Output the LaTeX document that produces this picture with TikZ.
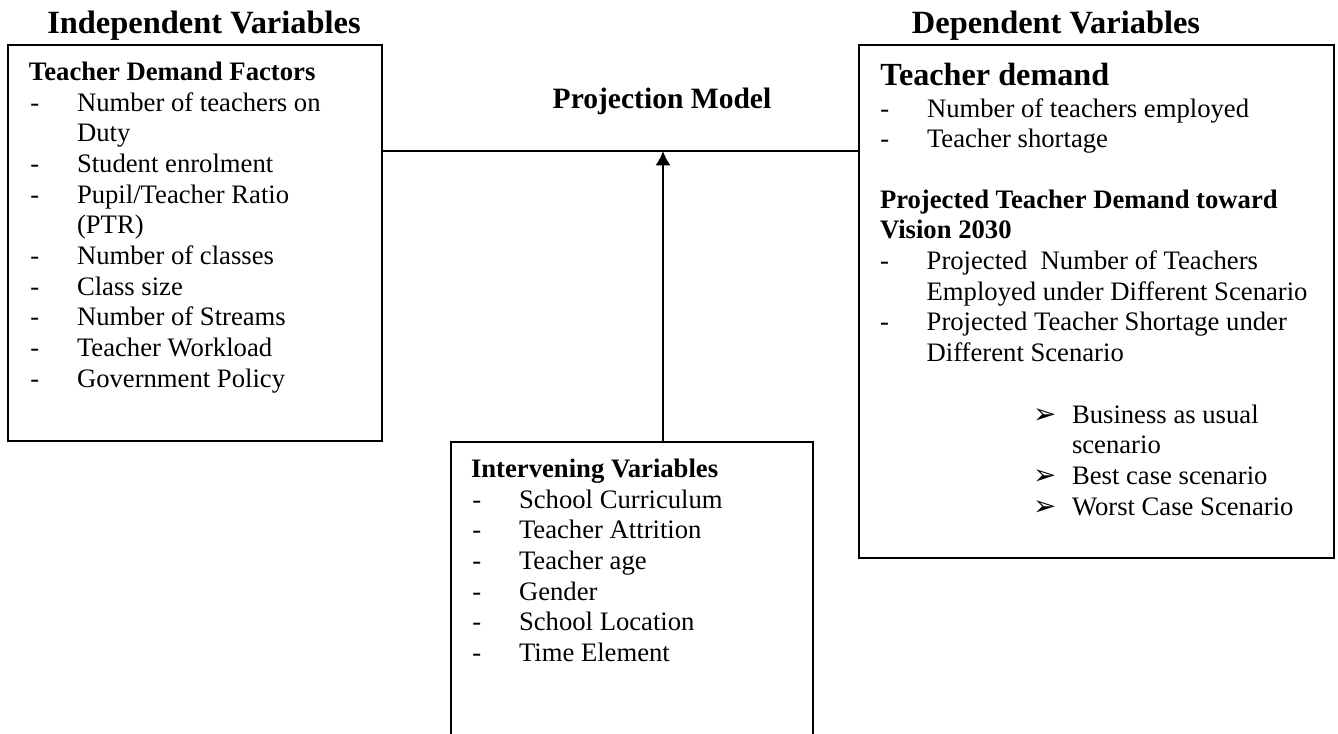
\documentclass[tikz,border=0pt]{standalone}
\usepackage{fontspec}
\setmainfont{Liberation Serif}
\newfontfamily\cstsym{DejaVu Sans}
\usetikzlibrary{
	arrows.meta,
	positioning
}
\tikzset{
  % box
	cstbox/.style     ={draw=black,line width=0.9pt,inner sep=0pt},
  % arrow
	cstline/.style    ={line width=1.1pt},
	cstra/.style      ={-{Latex[length=6.5pt,width=7pt]},line width=1.1pt},
  % text
	csthead/.style    ={anchor=base,inner sep=0pt,font=\fontsize{14.6}{16}\selectfont\bfseries},
	cstitem/.style    ={anchor=north west,inner sep=0pt,outer sep=0pt,text height=9.6pt,text depth=4.2pt,font=\fontsize{12}{13.8}\selectfont},
	csttitle/.style   ={cstitem,font=\fontsize{12}{13.8}\selectfont\bfseries},
	cstdsh/.style     ={cstitem,label={[cstitem,xshift=-21pt]north west:-}}, %短横
	cstarw/.style     ={cstitem,label={[cstitem,xshift=-17.5pt]north west:{\cstsym\fontsize{12.5}{13.8}\selectfont ➢}}}, %箭头项
	cstnext/.style    ={below right=0pt and 0pt of #1.south west} %下一行
}
\begin{document}
\begin{tikzpicture}[x=0.45pt,y=-0.45pt]
	\useasboundingbox (0,0) rectangle (1338,733);
	\clip (0,0) rectangle (1338,733);
	% headings
	\node[csthead] (indh) at (204,33) {Independent Variables};
	\node[csthead] (deph) at (1056,33) {Dependent Variables};
	\node[csthead,font=\fontsize{13.3}{15}\selectfont\bfseries] (pmh) at (662,108) {Projection Model};
	% boxes
	\node[cstbox,minimum width=168.3pt,minimum height=178.2pt] (indep) at (195,243) {};
	\node[cstbox,minimum width=213.75pt,minimum height=230.85pt] (dep) at (1096.5,301.5) {};
	\node[cstbox,minimum width=162.9pt,minimum height=143.1pt] (interv) at (632,601) {};
	% connectors
	\coordinate (jn) at (663,151);
	\draw[cstline] (indep.east |- jn) -- (dep.west |- jn);
	\draw[cstra] (interv.north -| jn) -- (jn);
	% independent variables
	\node[csttitle] (tdf) at (29,58.7) {Teacher Demand Factors};
	\node[cstdsh] (l1) at (77,89.7) {Number of teachers on};
	\node[cstitem,cstnext=l1] (l1b) {Duty};
	\node[cstdsh,cstnext=l1b] (l2) {Student enrolment};
	\node[cstdsh,cstnext=l2] (l3) {Pupil/Teacher Ratio};
	\node[cstitem,cstnext=l3] (l3b) {(PTR)};
	\node[cstdsh,cstnext=l3b] (l4) {Number of classes};
	\node[cstdsh,cstnext=l4] (l5) {Class size};
	\node[cstdsh,cstnext=l5] (l6) {Number of Streams};
	\node[cstdsh,cstnext=l6] (l7) {Teacher Workload};
	\node[cstdsh,cstnext=l7] (l8) {Government Policy};
	% dependent variables
	\node[anchor=base west,inner sep=0pt,font=\fontsize{14.5}{16}\selectfont\bfseries] (tdm) at (880,85) {Teacher demand};
	\node[cstdsh] (r1) at (927,95.7) {Number of teachers employed};
	\node[cstdsh,cstnext=r1] (r2) {Teacher shortage};
	\node[csttitle] (ptd) at (880,186.7) {Projected Teacher Demand toward};
	\node[csttitle,cstnext=ptd] (ptdb) {Vision 2030};
	\node[cstdsh,below right=0pt and 21pt of ptdb.south west] (r3) {Projected\ \ Number of Teachers};
	\node[cstitem,cstnext=r3] (r3b) {Employed under Different Scenario};
	\node[cstdsh,cstnext=r3b] (r4) {Projected Teacher Shortage under};
	\node[cstitem,cstnext=r4] (r4b) {Different Scenario};
	\node[cstarw] (s1) at (1072,401.7) {Business as usual};
	\node[cstitem,cstnext=s1] (s1b) {scenario};
	\node[cstarw,cstnext=s1b] (s2) {Best case scenario};
	\node[cstarw,cstnext=s2] (s3) {Worst Case Scenario};
	% intervening variables
	\node[csttitle] (ivt) at (471,455.7) {Intervening Variables};
	\node[cstdsh] (i1) at (519,486.7) {School Curriculum};
	\node[cstdsh,cstnext=i1] (i2) {Teacher Attrition};
	\node[cstdsh,cstnext=i2] (i3) {Teacher age};
	\node[cstdsh,cstnext=i3] (i4) {Gender};
	\node[cstdsh,cstnext=i4] (i5) {School Location};
	\node[cstdsh,cstnext=i5] (i6) {Time Element};
\end{tikzpicture}
\end{document}
